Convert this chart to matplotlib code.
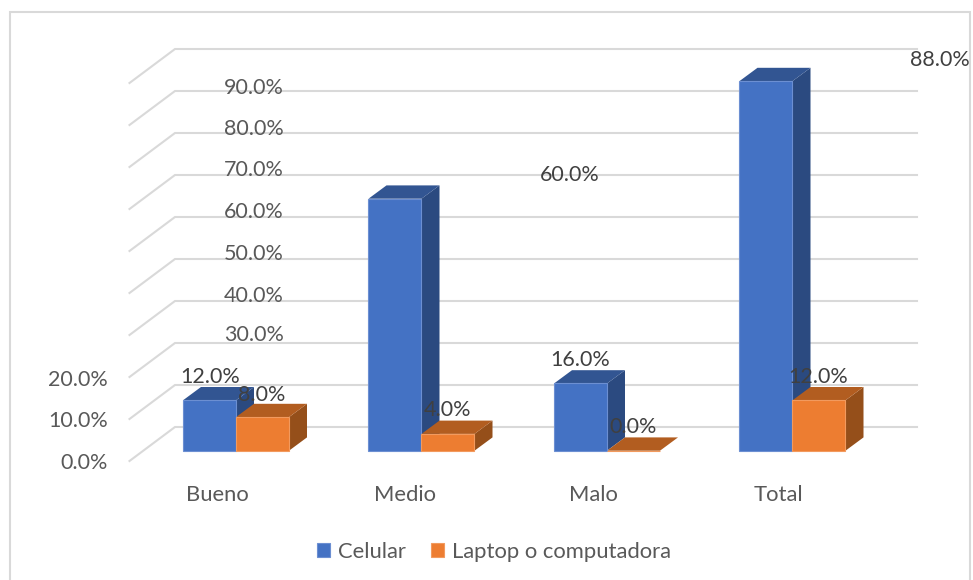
import numpy as np
import matplotlib
matplotlib.use("Agg")
import matplotlib.pyplot as plt
from matplotlib.patches import Polygon, Rectangle

# Chart data
categories = ["Bueno", "Medio", "Malo", "Total"]
celular = [12.0, 60.0, 16.0, 88.0]
laptop = [8.0, 4.0, 0.0, 12.0]
series_names = ["Celular", "Laptop o computadora"]
y_ticks = [0, 10, 20, 30, 40, 50, 60, 70, 80, 90]

# Layout, in pixels of the 973x580 picture
W, H = 973, 580
BASE_Y = 450.7     # pixel row of value 0 on the bar fronts
PX_PER_UNIT = 4.2  # pixels per percent
GROUP_X = 236      # boundary between the two bars of the first group
GROUP_STEP = 185.5
BAR_W = 53 / GROUP_STEP
DEPTH_X = 18 / GROUP_STEP
DEPTH_Y = 13.3 / PX_PER_UNIT
WALL_FRONT = (461 - BASE_Y) / PX_PER_UNIT  # grid offset at the front edge
WALL_BACK = (BASE_Y - 427) / PX_PER_UNIT   # grid offset at the back wall
GRID_X0 = (129.5 - GROUP_X) / GROUP_STEP
GRID_X1 = (175 - GROUP_X) / GROUP_STEP
GRID_X2 = (917 - GROUP_X) / GROUP_STEP

# Where the labels sit in the reference (they are scattered)
tick_label_pos = [(108, 461), (108, 419), (108, 378), (284, 333), (284, 294),
                  (284, 252), (284, 210), (284, 168), (284, 127), (284, 86)]
celular_label_pos = [(210, 375), (570, 173), (580, 358), (940, 58)]
laptop_label_pos = [(262, 393), (448, 408), (633, 425), (818, 375)]
category_label_pos = [(217, 493), (405, 493), (593, 493), (778, 493)]

GREY = "#D9D9D9"
TICK_COLOR = "#595959"
LABEL_COLOR = "#404040"
FONT = "Lato"
FONT_SIZE = 15.5
LEGEND_SIZE = 15.8
TEXT_SHIFT = 2  # Lato sits a little high when centred

plt.rcParams["font.family"] = FONT

fig = plt.figure(figsize=(W / 100, H / 100), dpi=100)
ax = fig.add_axes([0, 0, 1, 1])
ax.set_xlim(-GROUP_X / GROUP_STEP, (W - GROUP_X) / GROUP_STEP)
ax.set_ylim((BASE_Y - H) / PX_PER_UNIT, BASE_Y / PX_PER_UNIT)
ax.axis("off")


def px_text(pos, label, color, ha="center", size=FONT_SIZE):
    fig.text(pos[0] / W, 1 - (pos[1] + TEXT_SHIFT) / H, label, color=color, ha=ha, va="center",
             fontsize=size, zorder=5)


def bar_3d(x, value, front, side, top, edge):
    # front face through the axes, then the side and top faces from the same value
    bars = ax.bar(x, value, BAR_W, align="edge", color=front, edgecolor=edge,
                  linewidth=0.8, zorder=4)
    x1 = x + BAR_W
    ax.add_patch(Polygon([(x1, 0), (x1 + DEPTH_X, DEPTH_Y),
                          (x1 + DEPTH_X, value + DEPTH_Y), (x1, value)],
                         facecolor=side, edgecolor="none", zorder=3))
    ax.add_patch(Polygon([(x, value), (x + DEPTH_X, value + DEPTH_Y),
                          (x1 + DEPTH_X, value + DEPTH_Y), (x1, value)],
                         facecolor=top, edgecolor="none", zorder=3))
    return bars


# Frame of the chart area, open at the bottom of the picture
fig.add_artist(Rectangle((10 / W, -0.05), 960 / W, 1.05 - 12 / H, transform=fig.transFigure,
                         facecolor="white", edgecolor=GREY, linewidth=1.5, zorder=-1))

# Floor and back wall grid lines
for tick in y_ticks:
    ax.plot([GRID_X0, GRID_X1, GRID_X2],
            [tick - WALL_FRONT, tick + WALL_BACK, tick + WALL_BACK],
            color=GREY, linewidth=1.5, zorder=1, solid_joinstyle="miter")

handles = []
for i in range(len(categories)):
    b1 = bar_3d(i - BAR_W, celular[i], "#4472C4", "#2B4A80", "#325592", "#6C8FD2")
    b2 = bar_3d(i, laptop[i], "#ED7D31", "#954F1A", "#B25D20", "#F29A5E")
    if i == 0:
        handles = [b1, b2]

for tick, pos in zip(y_ticks, tick_label_pos):
    px_text(pos, f"{tick:.1f}%", TICK_COLOR, ha="right")
for value, pos in zip(celular, celular_label_pos):
    px_text(pos, f"{value:.1f}%", LABEL_COLOR)
for value, pos in zip(laptop, laptop_label_pos):
    px_text(pos, f"{value:.1f}%", LABEL_COLOR)
for name, pos in zip(categories, category_label_pos):
    px_text(pos, name, TICK_COLOR, size=LEGEND_SIZE)

fig.legend(handles, series_names, loc="center", bbox_to_anchor=(494 / W, 1 - 552 / H),
           ncol=2, frameon=False, fontsize=LEGEND_SIZE, labelcolor=TICK_COLOR,
           handlelength=0.6, handleheight=0.6, handletextpad=0.35, columnspacing=1.15)

fig.savefig("out.png", dpi=100)
